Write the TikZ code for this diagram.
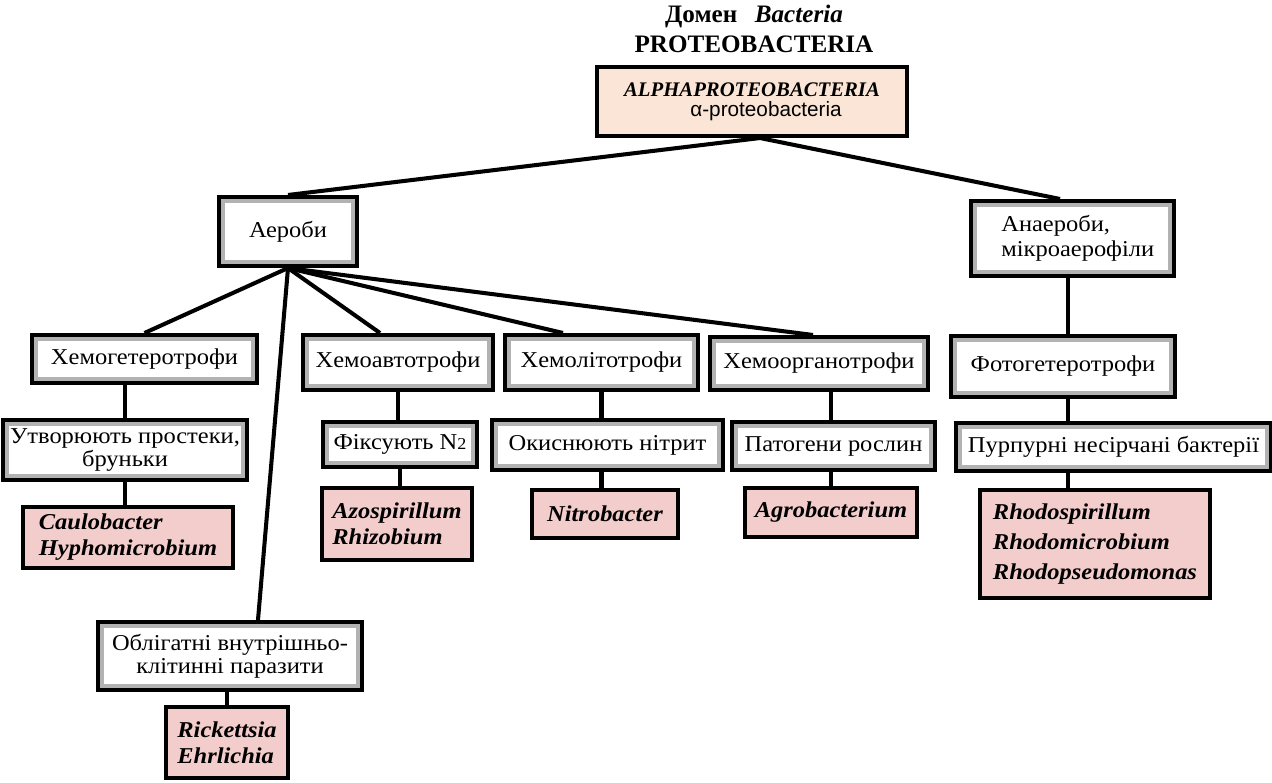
\documentclass[tikz,border=0pt]{standalone}
\usepackage{fontspec}
\setmainfont{Liberation Serif}
\newfontfamily\bodyfont{Liberation Serif}[FakeStretch=1.08]
\newfontfamily\alphasans{Liberation Sans}
\definecolor{alphafill}{RGB}{251,229,214}
\definecolor{genusfill}{RGB}{242,205,203}
\definecolor{bandgrey}{RGB}{178,178,178}

\begin{document}
\begin{tikzpicture}[x=0.02cm,y=-0.02cm,
	wh/.style 2 args={minimum width=#1*0.02cm,minimum height=#2*0.02cm},
	grbox/.style={draw,line width=2.3pt,fill=bandgrey,inner sep=0pt,align=center,
		font=\bodyfont\fontsize{12.9}{13.2}\selectfont,
		path picture={\fill[white] ([shift={(3.4pt,3.4pt)}]path picture bounding box.south west)
			rectangle ([shift={(-3.4pt,-3.4pt)}]path picture bounding box.north east);}},
	genbox/.style={draw,line width=2.3pt,fill=genusfill,inner sep=0pt,align=left,
		font=\bodyfont\bfseries\itshape\fontsize{12.9}{14.8}\selectfont},
	link/.style={line width=2.3pt}]
		\useasboundingbox (0,0) rectangle (1272,782);
		% title and root
		\node[align=center,font=\bfseries\fontsize{14.3}{17}\selectfont] (title) at (754,29) {Домен\hspace{0.7em}\textit{Bacteria}\\PROTEOBACTERIA};
		\node[draw,line width=2.3pt,fill=alphafill,inner sep=0pt,align=center,wh={310}{69},font=\fontsize{11.8}{11.5}\selectfont] (alpha) at (752,101.5)
			{\bfseries\itshape ALPHAPROTEOBACTERIA\\\hspace*{16pt}{\alphasans α-proteobacteria}};
		% second level
		\node[grbox,wh={138}{69}] (aer) at (288,231.5) {Аероби};
		\node[grbox,wh={203}{75},align=left,font=\bodyfont\fontsize{12.9}{14}\selectfont] (anaer) at (1072.5,238.5) {\hspace*{6pt}Анаероби,\\\hspace*{6pt}мікроаерофіли};
		% third level
		\node[grbox,wh={225}{48}] (hemohet) at (144.5,359) {Хемогетеротрофи};
		\node[grbox,wh={190}{55}] (hemoavt) at (398,362.5) {Хемоавтотрофи};
		\node[grbox,wh={193}{55}] (hemolit) at (601.5,362.5) {Хемолітотрофи};
		\node[grbox,wh={218}{53}] (hemoorg) at (819,363.5) {Хемоорганотрофи};
		\node[grbox,wh={224}{61}] (photohet) at (1063,366.5) {Фотогетеротрофи};
		% fourth level
		\node[grbox,wh={244}{60}] (prost) at (125,450) {Утворюють простеки,\\бруньки};
		\node[grbox,wh={154}{45}] (fix) at (400,444.5) {Фіксують N{\fontsize{9.5}{10}\selectfont 2}};
		\node[grbox,wh={231}{50}] (oxid) at (607.5,445) {Окиснюють нітрит};
		\node[grbox,wh={203}{48}] (patog) at (833.5,446) {Патогени рослин};
		\node[grbox,wh={315}{48}] (purp) at (1113.5,447) {Пурпурні несірчані бактерії};
		\node[grbox,wh={264}{68}] (oblig) at (230,656) {Облігатні внутрішньо-\\клітинні паразити};
		% genera
		\node[genbox,wh={210}{61}] (caulo) at (128,537.5) {Caulobacter\\Hyphomicrobium};
		\node[genbox,wh={150}{72}] (azo) at (397,524) {Azospirillum\\Rhizobium};
		\node[genbox,wh={146}{48}] (nitro) at (605,514) {Nitrobacter};
		\node[genbox,wh={172}{49}] (agro) at (831,512.5) {Agrobacterium};
		\node[genbox,wh={230}{108}] (rhodo) at (1095,544) {Rhodospirillum\\[2.5pt]Rhodomicrobium\\[2.5pt]Rhodopseudomonas};
		\node[genbox,wh={122}{71}] (rick) at (227,742.5) {Rickettsia\\Ehrlichia};
		% connectors
		\draw[link] ([xshift=0.16cm]alpha.south) -- (aer.north);
		\draw[link] ([xshift=0.16cm]alpha.south) -- ([xshift=-0.25cm]anaer.north);
		\draw[link] (aer.south) -- (hemohet.north);
		\draw[link] (aer.south) -- ([xshift=-0.36cm]hemoavt.north);
		\draw[link] (aer.south) -- ([xshift=-0.77cm]hemolit.north);
		\draw[link] (aer.south) -- ([xshift=-0.12cm]hemoorg.north);
		\draw[link] (aer.south) -- ([xshift=0.56cm]oblig.north);
		\draw[link] (prost.north |- hemohet.south) -- (prost.north);
		\draw[link] (prost.south) -- (prost.south |- caulo.north);
		\draw[link] (hemoavt.south) -- (hemoavt.south |- fix.north);
		\draw[link] (fix.south) -- (fix.south |- azo.north);
		\draw[link] (hemolit.south) -- (hemolit.south |- oxid.north);
		\draw[link] (hemolit.south |- oxid.south) -- (hemolit.south |- nitro.north);
		\draw[link] (agro.north |- hemoorg.south) -- (agro.north |- patog.north);
		\draw[link] (agro.north |- patog.south) -- (agro.north);
		\draw[link] ([xshift=-0.09cm]anaer.south) -- ([xshift=-0.09cm]anaer.south |- photohet.north);
		\draw[link] ([xshift=-0.09cm]anaer.south |- photohet.south) -- ([xshift=-0.09cm]anaer.south |- purp.north);
		\draw[link] ([xshift=-0.09cm]anaer.south |- purp.south) -- ([xshift=-0.09cm]anaer.south |- rhodo.north);
		\draw[link] (rick.north |- oblig.south) -- (rick.north);
	\end{tikzpicture}
\end{document}
